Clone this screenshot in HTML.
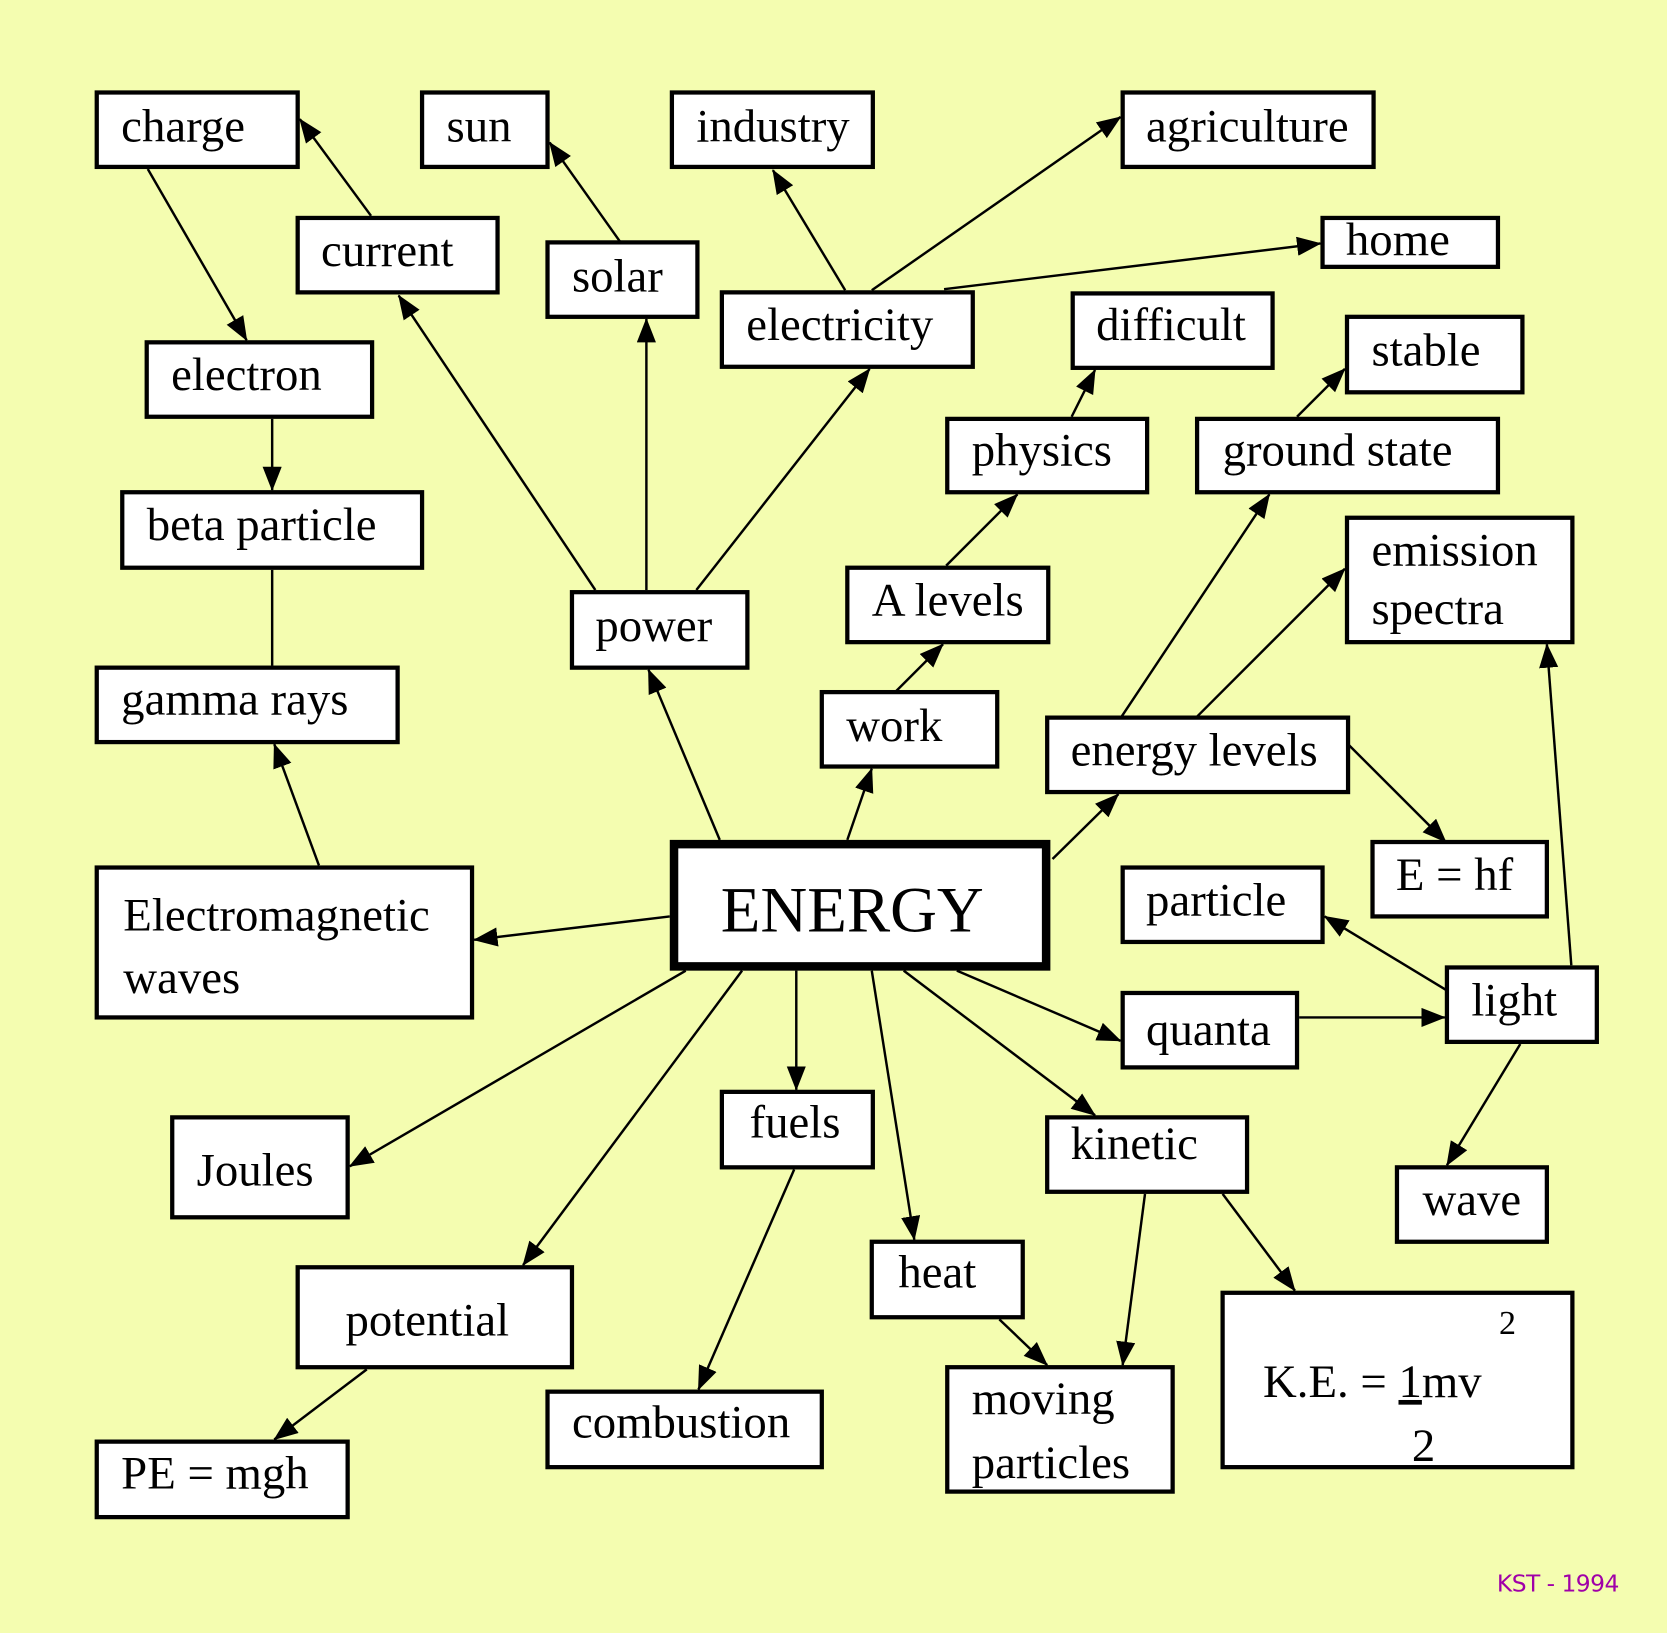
<!DOCTYPE html>
<html><head><meta charset="utf-8"><style>
html,body{margin:0;padding:0;background:#f4fdb0;}
svg{display:block;}
text{font-family:"Liberation Serif",serif;font-size:44px;fill:#000;}
</style></head><body>
<svg width="1667" height="1633" viewBox="0 0 1568 1536" preserveAspectRatio="none" xmlns="http://www.w3.org/2000/svg">
<defs>
<marker id="a" markerUnits="userSpaceOnUse" markerWidth="24" markerHeight="20" refX="22" refY="9" orient="auto">
<path d="M0,0 L23,9 L0,18 z" fill="#000"/>
</marker>
</defs>
<rect width="1568" height="1536" fill="#f4fdb0"/>
<g stroke="#000" stroke-width="2.3" fill="none" marker-end="url(#a)">
<line x1="349" y1="203" x2="282" y2="112"/>
<line x1="583" y1="227" x2="517" y2="134"/>
<line x1="795" y1="273" x2="727" y2="160"/>
<line x1="820" y1="273" x2="1054" y2="110"/>
<line x1="888" y1="272" x2="1242" y2="229"/>
<line x1="139" y1="159" x2="232" y2="320"/>
<line x1="256" y1="394" x2="256" y2="461"/>
<line x1="300" y1="814" x2="258" y2="700"/>
<line x1="560" y1="555" x2="375" y2="278"/>
<line x1="608" y1="555" x2="608" y2="300"/>
<line x1="655" y1="555" x2="818" y2="347"/>
<line x1="677" y1="790" x2="610" y2="630"/>
<line x1="797" y1="790" x2="820" y2="723"/>
<line x1="843" y1="650" x2="887" y2="606"/>
<line x1="890" y1="532" x2="957" y2="465"/>
<line x1="1008" y1="392" x2="1030" y2="348"/>
<line x1="1220" y1="392" x2="1265" y2="347"/>
<line x1="1055" y1="674" x2="1194" y2="465"/>
<line x1="1126" y1="674" x2="1265" y2="535"/>
<line x1="1268" y1="700" x2="1360" y2="792"/>
<line x1="990" y1="808" x2="1052" y2="747"/>
<line x1="630" y1="862" x2="446" y2="884"/>
<line x1="645" y1="913" x2="329" y2="1097"/>
<line x1="698" y1="913" x2="492" y2="1190"/>
<line x1="749" y1="913" x2="749" y2="1025"/>
<line x1="820" y1="913" x2="860" y2="1166"/>
<line x1="850" y1="913" x2="1030" y2="1049"/>
<line x1="900" y1="913" x2="1054" y2="979"/>
<line x1="1222" y1="957" x2="1359" y2="957"/>
<line x1="1360" y1="931" x2="1246" y2="862"/>
<line x1="1478" y1="908" x2="1455" y2="606"/>
<line x1="1430" y1="982" x2="1361" y2="1096"/>
<line x1="1077" y1="1123" x2="1056" y2="1284"/>
<line x1="1150" y1="1123" x2="1218" y2="1214"/>
<line x1="940" y1="1241" x2="985" y2="1284"/>
<line x1="747" y1="1100" x2="657" y2="1307"/>
<line x1="345" y1="1288" x2="258" y2="1354"/>
</g>
<line x1="256" y1="536" x2="256" y2="626" stroke="#000" stroke-width="2.3"/>
<g fill="#fff" stroke="#000" stroke-width="4">
<rect x="91" y="87" width="189" height="70"/>
<rect x="397" y="87" width="118" height="70"/>
<rect x="632" y="87" width="189" height="70"/>
<rect x="1056" y="87" width="236" height="70"/>
<rect x="280" y="205" width="188" height="70"/>
<rect x="515" y="228" width="141" height="70"/>
<rect x="1244" y="205" width="165" height="46"/>
<rect x="679" y="275" width="236" height="70"/>
<rect x="1009" y="276" width="188" height="70"/>
<rect x="1267" y="298" width="165" height="71"/>
<rect x="138" y="322" width="212" height="70"/>
<rect x="891" y="394" width="188" height="69"/>
<rect x="1126" y="394" width="283" height="69"/>
<rect x="115" y="463" width="282" height="71"/>
<rect x="1267" y="487" width="212" height="117"/>
<rect x="538" y="557" width="165" height="71"/>
<rect x="797" y="534" width="189" height="70"/>
<rect x="91" y="628" width="283" height="70"/>
<rect x="773" y="651" width="165" height="70"/>
<rect x="985" y="675" width="283" height="70"/>
<rect x="1291" y="792" width="164" height="70"/>
<rect x="91" y="816" width="353" height="141"/>
<rect x="1056" y="816" width="188" height="70"/>
<rect x="1361" y="910" width="141" height="70"/>
<rect x="1056" y="934" width="164" height="70"/>
<rect x="679" y="1027" width="142" height="71"/>
<rect x="985" y="1051" width="188" height="70"/>
<rect x="162" y="1051" width="165" height="94"/>
<rect x="1314" y="1098" width="141" height="70"/>
<rect x="820" y="1168" width="142" height="71"/>
<rect x="280" y="1192" width="258" height="94"/>
<rect x="1150" y="1216" width="329" height="164"/>
<rect x="515" y="1309" width="258" height="71"/>
<rect x="891" y="1286" width="212" height="117"/>
<rect x="91" y="1356" width="236" height="71"/>
</g>
<rect x="634" y="794" width="350" height="115" fill="#fff" stroke="#000" stroke-width="8"/>
<text x="114" y="133">charge</text>
<text x="420" y="133">sun</text>
<text x="655" y="133">industry</text>
<text x="1078" y="133">agriculture</text>
<text x="302" y="250">current</text>
<text x="538" y="274">solar</text>
<text x="1266" y="240">home</text>
<text x="702" y="320">electricity</text>
<text x="1031" y="320">difficult</text>
<text x="1290" y="344">stable</text>
<text x="161" y="367">electron</text>
<text x="914" y="438">physics</text>
<text x="1150" y="438">ground state</text>
<text x="138" y="508">beta particle</text>
<text x="1290" y="532">emission</text>
<text x="1290" y="587">spectra</text>
<text x="560" y="603">power</text>
<text x="820" y="579">A levels</text>
<text x="114" y="672">gamma rays</text>
<text x="796" y="697">work</text>
<text x="1007" y="720">energy levels</text>
<text x="1313" y="837">E = hf</text>
<text x="678" y="876" style="font-size:61px">ENERGY</text>
<text x="116" y="875">Electromagnetic</text>
<text x="116" y="934">waves</text>
<text x="1078" y="861">particle</text>
<text x="1384" y="955">light</text>
<text x="1078" y="983">quanta</text>
<text x="705" y="1070">fuels</text>
<text x="1007" y="1090">kinetic</text>
<text x="185" y="1115">Joules</text>
<text x="1338" y="1143">wave</text>
<text x="845" y="1211">heat</text>
<text x="325" y="1256">potential</text>
<text x="1410" y="1255" style="font-size:32px">2</text>
<text x="1188" y="1314">K.E. = <tspan text-decoration="underline">1</tspan>mv</text>
<text x="1328" y="1374">2</text>
<text x="538" y="1352">combustion</text>
<text x="914" y="1330">moving</text>
<text x="914" y="1390">particles</text>
<text x="114" y="1400">PE = mgh</text>
<text x="1408" y="1497" style="font-family:'DejaVu Sans','Liberation Sans',sans-serif;font-size:22px;fill:#a000a8;letter-spacing:-0.5px">KST - 1994</text>
</svg>
</body></html>
